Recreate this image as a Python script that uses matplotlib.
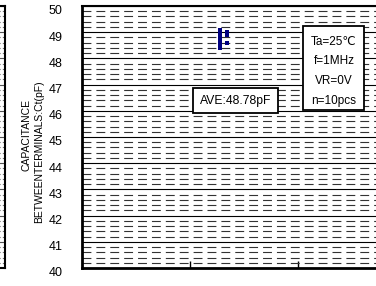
import numpy as np
import matplotlib.pyplot as plt
from matplotlib import ticker
from matplotlib.patches import Rectangle
import matplotlib.transforms as mtransforms

plt.rcParams['font.family'] = ['Liberation Sans', 'DejaVu Sans']

# meetwaarden (10 stuks), twee kolommen punten
x_pts = [1.28, 1.28, 1.28, 1.28, 1.28, 1.28, 1.28, 1.34, 1.34, 1.34]
ct_pts = [49.1, 49.0, 48.9, 48.8, 48.7, 48.55, 48.4, 49.0, 48.9, 48.6]
yticks = [40, 41, 42, 43, 44, 45, 46, 47, 48, 49, 50]
ave_text = 'AVE:48.78pF'
cond_lines = ['Ta=25\u2103', 'f=1MHz', 'VR=0V', 'n=10pcs']

W, H = 376, 286
fig = plt.figure(figsize=(W/100, H/100), dpi=100)


def fx(px):
    return px / W


def fy(py):  # py gemeten vanaf boven
    return 1 - py / H


top, bot = 6, 268

# stukje van de buurgrafiek links
axl = fig.add_axes([fx(-100), fy(bot), fx(105), (bot-top)/H])
axl.set_ylim(40, 50)
axl.set_xlim(0, 1)
axl.yaxis.set_major_locator(ticker.MultipleLocator(1))
axl.yaxis.set_minor_locator(ticker.MultipleLocator(0.2))
axl.grid(which='major', axis='y', color='#555555', lw=0.8)
axl.grid(which='minor', axis='y', color='#666666', lw=0.8, linestyle=(0, (1, 2)))
axl.tick_params(which='both', length=0, labelleft=False, labelbottom=False)
for s in axl.spines.values():
    s.set_linewidth(1.5)

# hoofdgrafiek
ax = fig.add_axes([fx(82), fy(bot), fx(324), (bot-top)/H])
ax.set_ylim(40, 50)
ax.set_xlim(0, 3)
ax.set_yticks(yticks)
ax.yaxis.set_minor_locator(ticker.MultipleLocator(0.2))
ax.set_xticks([1, 2])
ax.xaxis.set_major_formatter(ticker.NullFormatter())
ax.tick_params(axis='x', direction='in', length=5, width=1, color='black')
ax.tick_params(axis='y', which='both', length=0, pad=14, labelsize=9)
ax.grid(which='major', axis='y', color='black', lw=0.8)
ax.grid(which='minor', axis='y', color='#333333', lw=0.8, linestyle=(0, (8, 4.5)))
ax.set_axisbelow(True)
for s in ['left', 'bottom']:
    ax.spines[s].set_linewidth(2)
ax.spines['top'].set_linewidth(1.5)

# labels iets lager zetten zoals in het origineel
offset = mtransforms.ScaledTranslation(0, -4/100, fig.dpi_scale_trans)
for lab in ax.get_yticklabels():
    lab.set_transform(lab.get_transform() + offset)

ax.plot(x_pts, ct_pts, 's', color='#000080', markersize=2.5, markeredgewidth=0, zorder=5)

fig.text(fx(26), fy(135), 'CAPACITANCE', rotation=90, ha='center', va='center', fontsize=7.5)
fig.text(fx(39), fy(152), 'BETWEENTERMINALS:Ct(pF)', rotation=90, ha='center', va='center', fontsize=7.5)

# AVE kader
fig.patches.append(Rectangle((fx(193), fy(113)), fx(85), (113-88)/H, transform=fig.transFigure,
                             facecolor='white', edgecolor='black', lw=1.3, zorder=10))
fig.text(fx(236), fy(100.5), ave_text, ha='center', va='center', fontsize=8.7, zorder=11)

# condities kader
fig.patches.append(Rectangle((fx(303), fy(110)), fx(61), (110-26)/H, transform=fig.transFigure,
                             facecolor='white', edgecolor='black', lw=1.3, zorder=10))
for i, t in enumerate(cond_lines):
    fig.text(fx(334), fy(42 + 19.5*i), t, ha='center', va='center', fontsize=8.5, zorder=11)

fig.savefig('out.png', dpi=100)
